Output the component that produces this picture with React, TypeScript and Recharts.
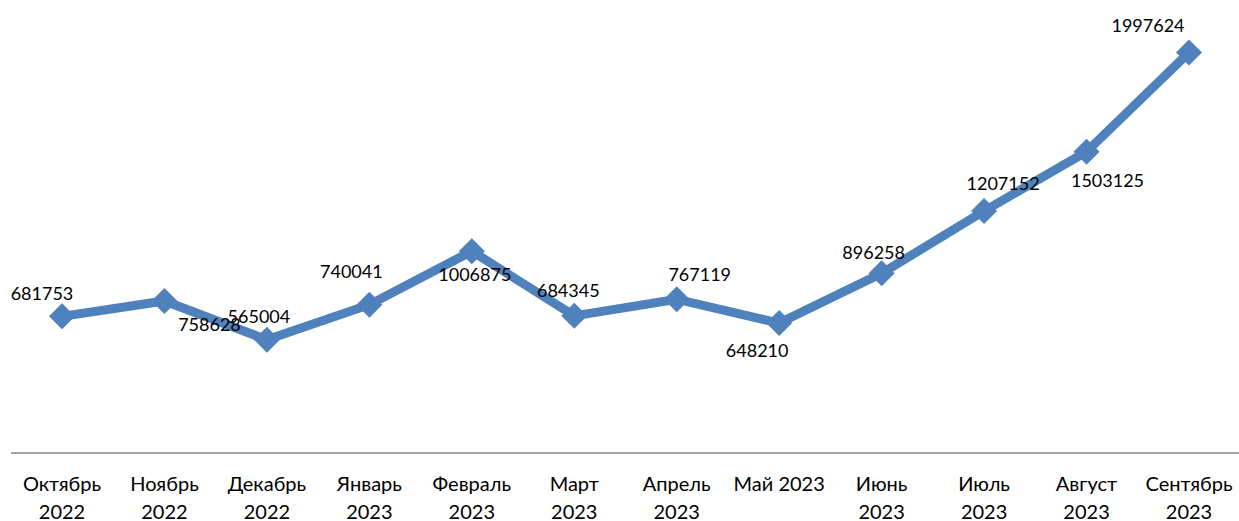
import { LineChart, Line, XAxis, YAxis, LabelList } from "recharts";

// Monthly totals, October 2022 – September 2023
const months = [
  "Октябрь 2022",
  "Ноябрь 2022",
  "Декабрь 2022",
  "Январь 2023",
  "Февраль 2023",
  "Март 2023",
  "Апрель 2023",
  "Май 2023",
  "Июнь 2023",
  "Июль 2023",
  "Август 2023",
  "Сентябрь 2023",
];

const values = [
  681753, 758628, 565004, 740041, 1006875, 684345, 767119, 648210, 896258,
  1207152, 1503125, 1997624,
];

// how each month label wraps under the axis
const tickLines = [
  ["Октябрь", "2022"],
  ["Ноябрь", "2022"],
  ["Декабрь", "2022"],
  ["Январь", "2023"],
  ["Февраль", "2023"],
  ["Март", "2023"],
  ["Апрель", "2023"],
  ["Май 2023"],
  ["Июнь", "2023"],
  ["Июль", "2023"],
  ["Август", "2023"],
  ["Сентябрь", "2023"],
];

// where each value label sits relative to its marker
const labelOffsets = [
  [-20, -23],
  [45, 23],
  [-8, -24],
  [-18, -34],
  [3, 23],
  [-6, -26],
  [23, -25],
  [-22, 27],
  [-8, -21],
  [19, -28],
  [21, 28],
  [-41, -28],
];

const data = months.map((month, i) => ({ month, value: values[i], idx: i }));

const BLUE = "#4F81BD";
const FONT = "Lato, 'Open Sans', sans-serif";

const Diamond = (props: any) => {
  const { cx, cy } = props;
  if (cx == null || cy == null) return null;
  const r = 13;
  return (
    <polygon
      points={`${cx},${cy - r} ${cx + r},${cy} ${cx},${cy + r} ${cx - r},${cy}`}
      fill={BLUE}
    />
  );
};

const MonthTick = (props: any) => {
  const { x, y, index } = props;
  const lines = tickLines[index] || [];
  return (
    <text
      x={x}
      y={y}
      textAnchor="middle"
      fill="#000"
      fontSize={20}
      fontFamily={FONT}
    >
      {lines.map((l, i) => (
        <tspan key={i} x={x} dy={i === 0 ? 30 : 28}>
          {l}
        </tspan>
      ))}
    </text>
  );
};

const ValueLabel = (props: any) => {
  const { x, y, value, index } = props;
  const [dx, dy] = labelOffsets[index] || [0, -20];
  return (
    <text
      x={x + dx}
      y={y + dy}
      textAnchor="middle"
      dominantBaseline="central"
      fill="#000"
      fontSize={18}
      fontFamily={FONT}
    >
      {value}
    </text>
  );
};

export default function App() {
  return (
    <div style={{ position: "absolute", left: 0, top: 0, background: "#fff" }}>
      <LineChart
        width={1239}
        height={521}
        data={data}
        margin={{ top: 12, right: 0, left: 11, bottom: 8 }}
      >
        <XAxis
          dataKey="month"
          axisLine={{ stroke: "#868686", strokeWidth: 1.5 }}
          tickLine={false}
          tick={<MonthTick />}
          interval={0}
          height={60}
          padding={{ left: 51, right: 50 }}
        />
        <YAxis hide domain={[0, 2200000]} />
        <Line
          type="linear"
          dataKey="value"
          stroke={BLUE}
          strokeWidth={9}
          dot={<Diamond />}
          activeDot={false}
          isAnimationActive={false}
        >
          <LabelList dataKey="value" content={<ValueLabel />} />
        </Line>
      </LineChart>
    </div>
  );
}
